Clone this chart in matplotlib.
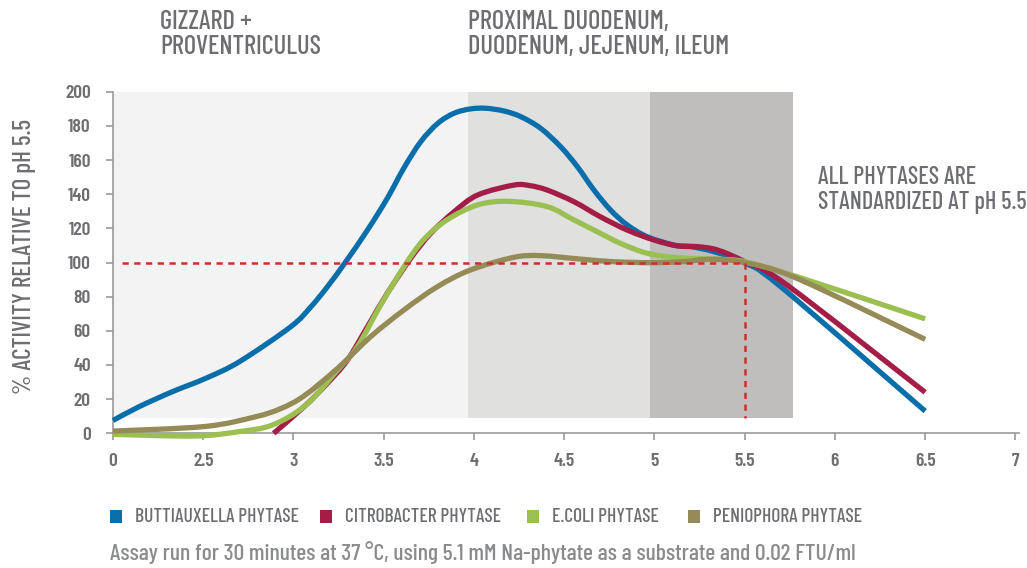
import matplotlib
matplotlib.use("Agg")
import matplotlib.pyplot as plt
from matplotlib.patches import Rectangle, PathPatch
from matplotlib.path import Path

FONT = ['Barlow Condensed', 'DejaVu Sans']
plt.rcParams['font.family'] = FONT

GRAY = '#6d6e71'

# x tick positions and labels (first label "0" sits one step left of 2.5)
tick_pos = [2.0, 2.5, 3.0, 3.5, 4.0, 4.5, 5.0, 5.5, 6.0, 6.5, 7.0]
tick_lab = ['0', '2.5', '3', '3.5', '4', '4.5', '5', '5.5', '6', '6.5', '7']
y_ticks = [0, 20, 40, 60, 80, 100, 120, 140, 160, 180, 200]

names = ['BUTTIAUXELLA PHYTASE', 'CITROBACTER PHYTASE', 'E.COLI PHYTASE', 'PENIOPHORA PHYTASE']
colors = ['#0a6eab', '#a31d47', '#9cbf52', '#958b56']

buti_x = [2.0, 2.145, 2.33, 2.514, 2.70, 2.985, 3.096, 3.188, 3.29, 3.41, 3.52, 3.61, 3.705,
          3.80, 3.89, 3.98, 4.065, 4.166, 4.259, 4.369, 4.48, 4.573, 4.665, 4.757, 4.849, 4.96,
          5.107, 5.20, 5.33, 5.495, 5.70, 6.5]
buti_y = [7.5, 15.6, 24.4, 32.2, 41.9, 62.4, 74, 85.8, 100.5, 119, 137.6, 155, 170.7,
          181.5, 187.4, 189.9, 190.3, 188.7, 185.4, 178.6, 167.8, 156.1, 142.4, 130.7, 122, 115.1,
          110.2, 109.3, 106.3, 100, 85.8, 13]

citro_x = [2.89, 3.059, 3.188, 3.299, 3.41, 3.52, 3.65, 3.76, 3.89, 4.02, 4.22, 4.31, 4.406, 4.554,
           4.70, 4.849, 4.997, 5.13, 5.237, 5.35, 5.5, 5.735, 6.5]
citro_y = [0, 15.6, 29.3, 42.9, 62.4, 82, 102.5, 117, 129.7, 139.5, 145.3, 145, 142.4, 135.6,
           126.8, 119, 113.2, 109.7, 109.3, 107.3, 100.5, 86.8, 24]

ecoli_x = [2.0, 2.45, 2.70, 2.884, 3.07, 3.244, 3.354, 3.483, 3.612, 3.72, 3.85, 4.02, 4.19, 4.406,
           4.554, 4.70, 4.812, 4.96, 5.13, 5.35, 5.5, 5.79, 6.5]
ecoli_y = [-0.6, -1.6, 1, 4.9, 16.6, 37, 50.7, 75.1, 97.5, 113.2, 124.9, 133.7, 135.8, 132.7,
           124.9, 117.1, 111.2, 105.4, 102.8, 101.9, 100.5, 91.7, 67]

penio_x = [2.0, 2.51, 2.79, 2.93, 3.06, 3.244, 3.428, 3.612, 3.797, 3.98, 4.22, 4.37, 4.59, 4.77,
           4.98, 5.16, 5.31, 5.5, 5.79, 6.5]
penio_y = [1.3, 4, 9.7, 14.5, 22, 38, 56.6, 72.2, 85.8, 95.6, 103, 104, 102, 100.5,
           99.9, 100.5, 101.9, 100, 90.7, 55]

series_x = [buti_x, citro_x, ecoli_x, penio_x]
series_y = [buti_y, citro_y, ecoli_y, penio_y]

# shaded zones
zone_edges = [2.0, 3.965, 4.973, 5.77]
zone_colors = ['#f3f3f3', '#e0e0df', '#bfbebd']
zone_bottom = 9
ref_ph = 5.5
ref_val = 100


def smooth_path(xs, ys):
    """Catmull-Rom curve through the data points, as cubic Bezier segments (data coords)."""
    pts = list(zip(xs, ys))
    n = len(pts)
    verts = [pts[0]]
    codes = [Path.MOVETO]
    for i in range(n - 1):
        p0 = pts[i - 1] if i > 0 else pts[i]
        p1 = pts[i]
        p2 = pts[i + 1]
        p3 = pts[i + 2] if i + 2 < n else pts[i + 1]
        c1 = (p1[0] + (p2[0] - p0[0]) / 6, p1[1] + (p2[1] - p0[1]) / 6)
        c2 = (p2[0] - (p3[0] - p1[0]) / 6, p2[1] - (p3[1] - p1[1]) / 6)
        verts += [c1, c2, p2]
        codes += [Path.CURVE4] * 3
    return Path(verts, codes)


fig = plt.figure(figsize=(10.27, 5.68), dpi=100)
ax = fig.add_axes([113/1027, 1-433.3/568, 906/1027, (433.3-91.7)/568])
ax.set_xlim(2.0, 7.02)
ax.set_ylim(0, 200)

for i, c in enumerate(zone_colors):
    ax.add_patch(Rectangle((zone_edges[i], zone_bottom), zone_edges[i+1]-zone_edges[i],
                           200-zone_bottom, facecolor=c, edgecolor='none', zorder=0))

for xs, ys, c in zip(series_x, series_y, colors):
    ax.add_patch(PathPatch(smooth_path(xs, ys), facecolor='none', edgecolor=c, lw=3.8,
                           capstyle='butt', joinstyle='round', zorder=3, clip_on=False))

ax.plot([2.05, ref_ph], [ref_val, ref_val], color='#d42a2f', lw=1.8, ls=(0, (2.5, 2.2)), zorder=4)
ax.plot([ref_ph, ref_ph], [ref_val, zone_bottom], color='#d42a2f', lw=1.8, ls=(0, (2.5, 2.2)), zorder=4)

for s in ['top', 'right']:
    ax.spines[s].set_visible(False)
for s in ['left', 'bottom']:
    ax.spines[s].set_color('#9a9a9a')
    ax.spines[s].set_linewidth(1.2)

ax.set_xticks(tick_pos)
ax.set_xticklabels(tick_lab)
ax.set_yticks(y_ticks)
ax.tick_params(axis='both', colors='#9a9a9a', length=5, width=1.2, labelcolor=GRAY,
               labelsize=14)
ax.tick_params(axis='y', pad=11)
ax.tick_params(axis='x', pad=9)
for lab in ax.get_xticklabels() + ax.get_yticklabels():
    lab.set_fontweight('semibold')

fig.text(25/1027, 1-257/568, '% ACTIVITY RELATIVE TO pH 5.5', rotation=90, ha='center',
         va='center', color=GRAY, fontsize=18, fontweight='medium')

fig.text(160/1027, 1-10/568, 'GIZZARD +\nPROVENTRICULUS', ha='left', va='top', color=GRAY,
         fontsize=19, linespacing=1.05, fontweight='medium')
fig.text(468/1027, 1-10/568, 'PROXIMAL DUODENUM,\nDUODENUM, JEJENUM, ILEUM', ha='left', va='top',
         color=GRAY, fontsize=19, linespacing=1.05, fontweight='medium')
fig.text(818/1027, 1-166/568, 'ALL PHYTASES ARE\nSTANDARDIZED AT pH 5.5', ha='left', va='top',
         color=GRAY, fontsize=17.5, linespacing=1.12, fontweight='medium')

leg_x = [110, 320, 527, 688]
for name, c, lx in zip(names, colors, leg_x):
    fig.patches.append(Rectangle((lx/1027, 1-523/568), 12/1027, 13/568, facecolor=c,
                                 edgecolor='none', transform=fig.transFigure))
    fig.text((lx+25)/1027, 1-517/568, name, ha='left', va='center', color=GRAY, fontsize=14,
             fontweight='medium')

fig.text(110/1027, 1-553/568,
         'Assay run for 30 minutes at 37 \u00b0C, using 5.1 mM Na-phytate as a substrate and 0.02 FTU/ml',
         ha='left', va='center', color='#8a8b8d', fontsize=17, fontweight='medium')

fig.savefig('out.png', dpi=100)
